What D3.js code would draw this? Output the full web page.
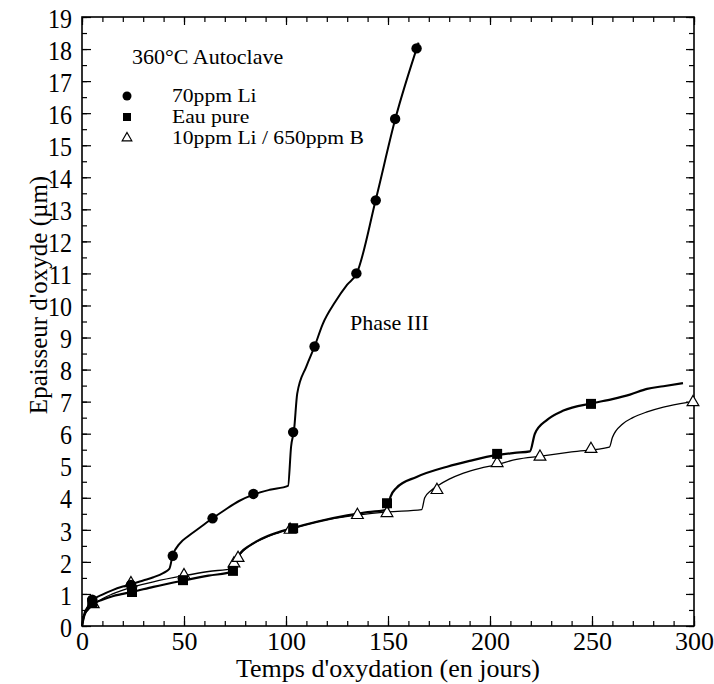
<!DOCTYPE html>
<html>
<head>
<meta charset="utf-8">
<script src="https://d3js.org/d3.v7.min.js"></script>
<style>
  body { margin: 0; background: #fff; }
  text { font-family: "Liberation Serif", "DejaVu Serif", serif; fill: #000; }
</style>
</head>
<body>
<div id="chart"></div>
<script>
// --- data ---
// markers: time (days) and oxide thickness (µm)
var liDays   = [5, 24, 44.5, 64, 84, 103.5, 114, 134.5, 144, 153.5, 164];
var liThick  = [0.82, 1.28, 2.19, 3.36, 4.12, 6.05, 8.72, 11.0, 13.28, 15.82, 18.02];

var eauDays  = [5, 24.5, 49.5, 74, 103.5, 149.5, 203.5, 249.5];
var eauThick = [0.72, 1.06, 1.43, 1.72, 3.05, 3.83, 5.37, 6.93];

var bDays    = [5.5, 24, 50, 74.5, 76.5, 102, 135, 149.5, 174, 203.5, 224.5, 249.5, 299.5];
var bThick   = [0.68, 1.33, 1.58, 1.95, 2.12, 3.0, 3.46, 3.52, 4.24, 5.08, 5.28, 5.52, 6.98];

// fitted curves
var liCurve = [[0,0],[1,0.35],[3,0.62],[5,0.8],[10,0.98],[15,1.12],[20,1.23],[25,1.32],[30,1.42],
  [35,1.52],[40,1.66],[42.8,1.78],[44.4,2.19],[48,2.58],[52,2.8],[58,3.08],[64,3.36],[70,3.62],
  [77,3.9],[84,4.1],[92,4.25],[101,4.37],[102.5,5.6],[104,6.15],[105.5,7.25],[110,8.1],[114,8.72],
  [118,9.42],[124,10.1],[130,10.65],[134.5,10.98],[144,13.3],[153.5,15.8],[165,18.2]];

var eauCurve = [[0,0],[1,0.3],[3,0.55],[5,0.68],[10,0.82],[15,0.93],[20,1.0],[25,1.07],[35,1.22],
  [50,1.42],[62,1.57],[74,1.7],[75.5,2.05],[78,2.3],[82,2.5],[88,2.72],[95,2.9],[103,3.05],
  [115,3.25],[130,3.45],[140,3.55],[150,3.63],[151.2,4.03],[154,4.3],[164,4.65],[179,4.97],
  [190,5.15],[203,5.33],[212,5.4],[219.6,5.45],[222,6.0],[228,6.43],[236,6.72],[250,6.95],
  [260,7.08],[268.6,7.22],[277,7.4],[285,7.48],[294.6,7.58]];

var bCurve = [[0,0],[1,0.3],[3,0.5],[5,0.62],[10,0.85],[15,1.0],[20,1.12],[25,1.22],[35,1.38],
  [50,1.57],[62,1.7],[74,1.8],[75,2.0],[77,2.2],[81,2.45],[88,2.7],[95,2.88],[102,3.02],
  [115,3.25],[125,3.37],[135,3.46],[150,3.56],[166.5,3.63],[168,4.0],[171,4.22],[174,4.36],
  [180,4.58],[187,4.77],[195,4.92],[203,5.03],[213,5.2],[225,5.3],[240,5.43],[258.5,5.58],
  [260,5.88],[265,6.3],[270,6.5],[277,6.68],[285,6.83],[297,6.98]];

var legendLabels = ["70ppm Li", "Eau pure", "10ppm Li / 650ppm B"];

// --- layout ---
var svgWidth = 714;
var svgHeight = 684;
var margin = { top: 17, right: 20, bottom: 58, left: 82 };
var chartWidth = svgWidth - margin.left - margin.right;   // 612
var chartHeight = svgHeight - margin.top - margin.bottom; // 609

var svg = d3.select("#chart").append("svg")
  .attr("width", svgWidth)
  .attr("height", svgHeight);

var g = svg.append("g")
  .attr("transform", `translate(${margin.left}, ${margin.top})`);

var x = d3.scaleLinear().domain([0, 300]).range([0, chartWidth]);
var y = d3.scaleLinear().domain([0, 19]).range([chartHeight, 0]);

// minor ticks first
function minor(axis, vals, size) {
  return axis.tickValues(vals).tickSize(size).tickFormat("");
}
var xMinor = d3.range(0, 301, 10);
var yMinor = d3.range(0, 19.01, 0.5);

g.append("g").attr("transform", `translate(0, ${chartHeight})`)
  .call(minor(d3.axisBottom(x), xMinor, -5));
g.append("g").call(minor(d3.axisTop(x), xMinor, -5));
g.append("g").call(minor(d3.axisLeft(y), yMinor, -5));
g.append("g").attr("transform", `translate(${chartWidth}, 0)`)
  .call(minor(d3.axisRight(y), yMinor, -5));

// major ticks
var xAxis = g.append("g").attr("transform", `translate(0, ${chartHeight})`)
  .call(d3.axisBottom(x).tickValues(d3.range(0, 301, 50)).tickSizeInner(-10).tickSizeOuter(0));
xAxis.selectAll("text").attr("y", 24).attr("dy", 0).style("font-size", "26px");

var yAxis = g.append("g")
  .call(d3.axisLeft(y).tickValues(d3.range(0, 20, 1)).tickSizeInner(-9).tickSizeOuter(0));
yAxis.selectAll("text").attr("x", -10).attr("dy", "0.36em")
  .attr("transform", "scale(1,1.18)")
  .style("font-size", "24px");

g.append("g").call(d3.axisTop(x).tickValues(d3.range(0, 301, 50)).tickSizeInner(-8).tickSizeOuter(0).tickFormat(""));
g.append("g").attr("transform", `translate(${chartWidth}, 0)`)
  .call(d3.axisRight(y).tickValues(d3.range(0, 20, 1)).tickSizeInner(-8).tickSizeOuter(0).tickFormat(""));

g.selectAll(".domain").remove();
g.selectAll(".tick line").attr("stroke", "#000").attr("stroke-width", 1.2);

// frame
g.append("rect")
  .attr("width", chartWidth).attr("height", chartHeight)
  .attr("fill", "none").attr("stroke", "#000").attr("stroke-width", 1.6);

// curves
var line = d3.line()
  .x(d => x(d[0]))
  .y(d => y(d[1]))
  .curve(d3.curveMonotoneX);

g.append("path").datum(liCurve).attr("d", line)
  .attr("fill", "none").attr("stroke", "#000").attr("stroke-width", 2);
g.append("path").datum(eauCurve).attr("d", line)
  .attr("fill", "none").attr("stroke", "#000").attr("stroke-width", 2.2);
g.append("path").datum(bCurve).attr("d", line)
  .attr("fill", "none").attr("stroke", "#000").attr("stroke-width", 1.3);

// markers
var liPts = liDays.map((d, i) => [d, liThick[i]]);
var eauPts = eauDays.map((d, i) => [d, eauThick[i]]);
var bPts = bDays.map((d, i) => [d, bThick[i]]);

var sqSym = d3.symbol().type(d3.symbolSquare).size(100);
var triSym = d3.symbol().type(d3.symbolTriangle).size(60);
var triSmall = d3.symbol().type(d3.symbolTriangle).size(40);

g.selectAll(".tri").data(bPts).enter().append("path")
  .attr("class", "tri")
  .attr("d", triSym)
  .attr("transform", d => `translate(${x(d[0])}, ${y(d[1])})`)
  .attr("fill", "#fff").attr("stroke", "#000").attr("stroke-width", 1.2);

g.selectAll(".sq").data(eauPts).enter().append("path")
  .attr("class", "sq")
  .attr("d", sqSym)
  .attr("transform", d => `translate(${x(d[0])}, ${y(d[1])})`)
  .attr("fill", "#000");

g.selectAll(".dot").data(liPts).enter().append("circle")
  .attr("class", "dot")
  .attr("cx", d => x(d[0]))
  .attr("cy", d => y(d[1]))
  .attr("r", 5.2)
  .attr("fill", "#000");

// legend
svg.append("text").attr("x", 132).attr("y", 64)
  .style("font-size", "22px").text("360°C Autoclave");

var legendY = [96, 117, 138];
svg.append("circle").attr("cx", 127).attr("cy", legendY[0]).attr("r", 4.5).attr("fill", "#000");
svg.append("path").attr("d", d3.symbol().type(d3.symbolSquare).size(64))
  .attr("transform", `translate(127, ${legendY[1]})`).attr("fill", "#000");
svg.append("path").attr("d", triSmall)
  .attr("transform", `translate(127, ${legendY[2]})`)
  .attr("fill", "#fff").attr("stroke", "#000").attr("stroke-width", 1.2);

// legend labels sit 21px apart, so use a smaller font stretched sideways
legendLabels.forEach(function(lbl, i) {
  svg.append("text")
    .attr("transform", `translate(172, ${legendY[i] + 6}) scale(1.2, 1)`)
    .style("font-size", "18px").text(lbl);
});

// annotation
svg.append("text").attr("x", 350).attr("y", 330)
  .style("font-size", "22px").text("Phase III");

// axis titles
svg.append("text")
  .attr("x", margin.left + chartWidth / 2).attr("y", 677)
  .attr("text-anchor", "middle")
  .style("font-size", "26px")
  .text("Temps d'oxydation (en jours)");

svg.append("text")
  .attr("transform", "translate(47, 295) rotate(-90)")
  .attr("text-anchor", "middle")
  .style("font-size", "25px")
  .text("Epaisseur d'oxyde (µm)");
</script>
</body>
</html>
